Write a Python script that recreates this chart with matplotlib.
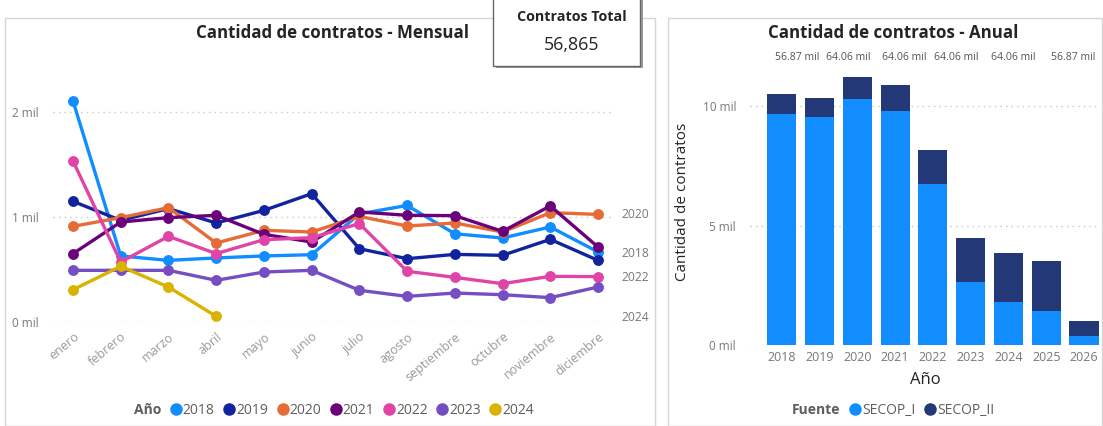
import matplotlib.pyplot as plt
from matplotlib.patches import Rectangle
from matplotlib.lines import Line2D
from matplotlib.ticker import FuncFormatter, FixedLocator
import numpy as np

plt.rcParams['font.family'] = ['Open Sans', 'DejaVu Sans']

# --- datos mensuales (miles de contratos) ---
meses = ['enero', 'febrero', 'marzo', 'abril', 'mayo', 'junio', 'julio',
         'agosto', 'septiembre', 'octubre', 'noviembre', 'diciembre']
anios = ['2018', '2019', '2020', '2021', '2022', '2023', '2024']
v2018 = [2.105, 0.629, 0.587, 0.610, 0.629, 0.641, 1.03, 1.11, 0.84, 0.80, 0.905, 0.667]
v2019 = [1.149, 0.968, 1.08, 0.943, 1.063, 1.222, 0.698, 0.603, 0.644, 0.635, 0.787, 0.587]
v2020 = [0.911, 0.994, 1.089, 0.752, 0.873, 0.857, 1.006, 0.914, 0.943, 0.857, 1.041, 1.025]
v2021 = [0.651, 0.952, 0.994, 1.016, 0.835, 0.762, 1.048, 1.016, 1.013, 0.863, 1.105, 0.714]
v2022 = [1.533, 0.571, 0.816, 0.651, 0.784, 0.803, 0.937, 0.483, 0.425, 0.365, 0.435, 0.432]
v2023 = [0.492, 0.492, 0.492, 0.397, 0.476, 0.492, 0.302, 0.244, 0.276, 0.260, 0.232, 0.333]
v2024 = [0.308, 0.530, 0.333, 0.054]
series = [v2018, v2019, v2020, v2021, v2022, v2023, v2024]
colores = ['#118DFF', '#12239E', '#E66C37', '#6B007B', '#E044A7', '#744EC2', '#D9B300']
etiquetas_der = ['2020', '2018', '2022', '2024']
etiquetas_der_y = [1.02, 0.65, 0.42, 0.04]

# --- datos anuales (miles de contratos) ---
anios_bar = [2018, 2019, 2020, 2021, 2022, 2023, 2024, 2025, 2026]
secop_i = [9.69, 9.58, 10.31, 9.83, 6.74, 2.64, 1.79, 1.44, 0.38]
secop_ii = [0.83, 0.77, 0.92, 1.08, 1.44, 1.86, 2.06, 2.08, 0.63]
etiquetas_top = ['56.87 mil', '64.06 mil', '64.06 mil', '64.06 mil', '64.06 mil', '56.87 mil']
etiquetas_top_x = [797, 848, 904, 956, 1013, 1073]

W, H = 1103, 426
fig = plt.figure(figsize=(W / 100, H / 100), dpi=100, facecolor='white')
gris = '#777777'
oscuro = '#252423'
grid_kw = dict(color='#c8c8c8', linestyle=(0, (1, 3)), linewidth=1)


def fx(px):
    return px / W


def fy(py):
    return 1 - py / H


# marcos de paneles
fig.patches.append(Rectangle((fx(5), 0), fx(650), fy(18), transform=fig.transFigure,
                             fill=False, edgecolor='#d6d6d6', linewidth=1))
fig.patches.append(Rectangle((fx(668), 0), fx(434), fy(18), transform=fig.transFigure,
                             fill=False, edgecolor='#d6d6d6', linewidth=1))

# ---------- gráfico mensual ----------
ax = fig.add_axes([fx(53), fy(322), fx(560), (322 - 91) / H])
x = np.arange(len(meses))
for vals, col in zip(series, colores):
    ax.plot(x[:len(vals)], vals, color=col, lw=2.4, marker='o', ms=6.8, clip_on=False, zorder=3)
ax.set_xlim(-20 / 47.73, 11 + 15 / 47.73)
ax.set_ylim(0, 2.2)
ax.yaxis.set_major_locator(FixedLocator([0, 1, 2]))
ax.yaxis.set_major_formatter(FuncFormatter(lambda v, p: f'{v:.0f} mil'))
ax.set_xticks(x)
ax.set_xticklabels(meses, rotation=40, ha='right', rotation_mode='anchor')
ax.tick_params(axis='x', length=0, pad=6, labelsize=9, labelcolor='#999999')
ax.tick_params(axis='y', length=0, pad=10, labelsize=8.5, labelcolor=gris)
ax.grid(axis='y', **grid_kw)
ax.set_axisbelow(True)
for s in ax.spines.values():
    s.set_visible(False)
for lab, yv in zip(etiquetas_der, etiquetas_der_y):
    ax.text(11.5, yv, lab, fontsize=8.7, color=gris, va='center', ha='left', clip_on=False)

fig.text(fx(333), fy(33), 'Cantidad de contratos - Mensual', fontsize=12.2, fontweight='bold',
         color=oscuro, ha='center', va='center')

handles = [Line2D([], [], linestyle='none')] + [
    Line2D([], [], linestyle='none', marker='o', ms=8, color=c) for c in colores]
leg = fig.legend(handles, ['Año'] + anios, loc='center', bbox_to_anchor=(fx(327), fy(410)),
                 ncol=8, frameon=False, fontsize=10, handletextpad=0.0, columnspacing=0.55,
                 handlelength=1.0, labelcolor='#605e5c')
leg.get_texts()[0].set_fontweight('bold')

# tarjeta total
fig.patches.append(Rectangle((fx(496), fy(68)), fx(147), 68 / H, transform=fig.transFigure,
                             facecolor='#9a9a9a', edgecolor='none', zorder=4))
fig.patches.append(Rectangle((fx(493), fy(66)), fx(147), 70 / H, transform=fig.transFigure,
                             facecolor='white', edgecolor='#666666', linewidth=1, zorder=5))
fig.text(fx(572), fy(17), 'Contratos Total', fontsize=10.3, fontweight='bold', color=oscuro,
         ha='center', va='center', zorder=6)
fig.text(fx(572), fy(45), '56,865', fontsize=12.8, color=oscuro, ha='center', va='center',
         zorder=6)

# ---------- gráfico anual ----------
bx = fig.add_axes([fx(750), fy(345), fx(350), (345 - 70) / H])
bx.bar(anios_bar, secop_i, width=0.77, color='#118DFF', zorder=3)
bx.bar(anios_bar, secop_ii, width=0.77, bottom=secop_i, color='#233876', zorder=3)
bx.set_xlim(2018 - 31.7 / 37.8, 2026 + 16 / 37.8)
bx.set_ylim(0, 11.53)
bx.yaxis.set_major_locator(FixedLocator([0, 5, 10]))
bx.yaxis.set_major_formatter(FuncFormatter(lambda v, p: f'{v:.0f} mil'))
bx.set_xticks(anios_bar)
bx.tick_params(axis='x', length=0, pad=4, labelsize=9, labelcolor=gris)
bx.tick_params(axis='y', length=0, pad=10, labelsize=8.5, labelcolor=gris)
bx.grid(axis='y', **grid_kw)
bx.set_axisbelow(True)
for s in bx.spines.values():
    s.set_visible(False)
bx.set_xlabel('Año', fontsize=12, color=oscuro, labelpad=6)

fig.text(fx(683), fy(202), 'Cantidad de contratos', fontsize=11, color=oscuro, rotation=90,
         ha='center', va='center')
fig.text(fx(893), fy(33), 'Cantidad de contratos - Anual', fontsize=12.2, fontweight='bold',
         color=oscuro, ha='center', va='center')
for lab, px in zip(etiquetas_top, etiquetas_top_x):
    fig.text(fx(px), fy(57), lab, fontsize=7.6, color='#555555', ha='center', va='center')

h2 = [Line2D([], [], linestyle='none'),
      Line2D([], [], linestyle='none', marker='o', ms=8, color='#118DFF'),
      Line2D([], [], linestyle='none', marker='o', ms=8, color='#233876')]
leg2 = fig.legend(h2, ['Fuente', 'SECOP_I', 'SECOP_II'], loc='center',
                  bbox_to_anchor=(fx(886), fy(410)), ncol=3, frameon=False, fontsize=10,
                  handletextpad=0.0, columnspacing=0.55, handlelength=1.0, labelcolor='#605e5c')
leg2.get_texts()[0].set_fontweight('bold')

fig.savefig('out.png', dpi=100, facecolor='white')
